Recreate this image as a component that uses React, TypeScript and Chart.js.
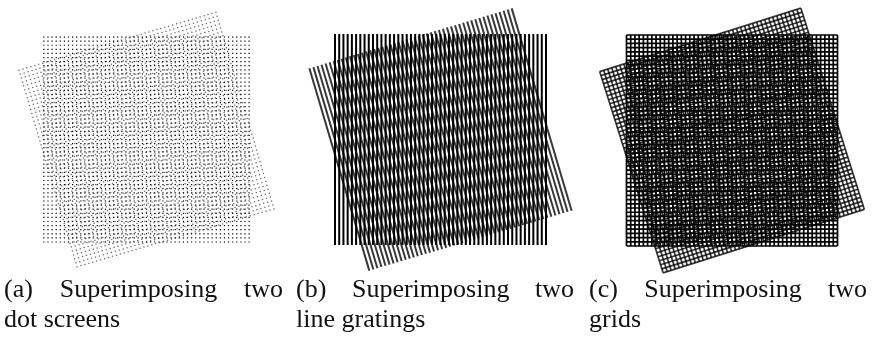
import React, { useEffect, useRef } from 'react';
import { Chart, registerables } from 'chart.js';

Chart.register(...registerables);

// ---- data ----
const gridIndex = [
  -25, -24, -23, -22, -21, -20, -19, -18, -17, -16, -15, -14, -13, -12, -11, -10, -9, -8, -7, -6, -5, -4, -3, -2, -1,
  0, 1, 2, 3, 4, 5, 6, 7, 8, 9, 10, 11, 12, 13, 14, 15, 16, 17, 18, 19, 20, 21, 22, 23, 24, 25,
];
const panelKinds = ['dots', 'lines', 'grids'];
const baseAngles = [0, 0, 0];
const overlayAngles = [-16.4, -16.5, -17.5];
const captionFirst = ['(a) Superimposing two', '(b) Superimposing two', '(c) Superimposing two'];
const captionSecond = ['dot screens', 'line gratings', 'grids'];

// ---- layout ----
const PANELS = [
  { left: 0, width: 292, cx: 146.5, cy: 139.5, size: 211 },
  { left: 293, width: 292, cx: 440.5, cy: 139.5, size: 211 },
  { left: 586, width: 288, cx: 732, cy: 140.5, size: 211 },
];
const CAPTIONS = [
  { left: 4, width: 279 },
  { left: 296, width: 278 },
  { left: 589, width: 278 },
];
const CANVAS_H = 280;

type Pt = { x: number; y: number };

function place(u: number, v: number, angleDeg: number, p: typeof PANELS[number]): Pt {
  const pitch = p.size / (gridIndex.length - 1);
  const a = (angleDeg * Math.PI) / 180;
  const c = Math.cos(a);
  const s = Math.sin(a);
  const px = u * pitch;
  const py = v * pitch;
  return { x: p.cx + px * c - py * s, y: p.cy + px * s + py * c };
}

function buildDatasets(index: number) {
  const p = PANELS[index];
  const kind = panelKinds[index];
  const first = gridIndex[0];
  const last = gridIndex[gridIndex.length - 1];
  const layers = [
    { angle: overlayAngles[index], color: 'rgba(0,0,0,0.78)' },
    { angle: baseAngles[index], color: '#000000' },
  ];
  const datasets: any[] = [];
  layers.forEach((layer, li) => {
    if (kind === 'dots') {
      const pts: Pt[] = [];
      gridIndex.forEach((i) => gridIndex.forEach((j) => pts.push(place(i, j, layer.angle, p))));
      datasets.push({
        data: pts,
        showLine: false,
        pointStyle: li === 1 ? 'rect' : 'circle',
        pointRadius: li === 1 ? 0.85 : 0.75,
        pointBorderWidth: 0,
        pointBackgroundColor: li === 1 ? '#000000' : 'rgba(0,0,0,0.6)',
        pointBorderColor: 'rgba(0,0,0,0)',
      });
    } else {
      const width = kind === 'lines' ? 2 : 1.7;
      gridIndex.forEach((i) => {
        datasets.push({
          data: [place(i, first, layer.angle, p), place(i, last, layer.angle, p)],
          showLine: true,
          pointRadius: 0,
          borderColor: layer.color,
          borderWidth: width,
        });
        if (kind === 'grids') {
          datasets.push({
            data: [place(first, i, layer.angle, p), place(last, i, layer.angle, p)],
            showLine: true,
            pointRadius: 0,
            borderColor: layer.color,
            borderWidth: width,
          });
        }
      });
    }
  });
  return datasets;
}

function Panel({ index }: { index: number }) {
  const ref = useRef<HTMLCanvasElement>(null);
  const p = PANELS[index];
  useEffect(() => {
    if (!ref.current) return;
    const chart = new Chart(ref.current, {
      type: 'scatter',
      data: { datasets: buildDatasets(index) },
      options: {
        responsive: false,
        animation: false,
        events: [],
        layout: { padding: 0 },
        plugins: { legend: { display: false }, tooltip: { enabled: false }, title: { display: false } },
        scales: {
          x: { type: 'linear', display: false, min: p.left, max: p.left + p.width },
          y: { type: 'linear', display: false, min: 0, max: CANVAS_H, reverse: true },
        },
      },
    } as any);
    return () => chart.destroy();
  }, [index]);
  return (
    <canvas
      ref={ref}
      width={p.width}
      height={CANVAS_H}
      style={{ position: 'absolute', left: p.left, top: 0, display: 'block' }}
    />
  );
}

export default function App() {
  const font = { fontFamily: '"Liberation Serif", serif', fontSize: 26, lineHeight: '30px', color: '#111' };
  return (
    <div style={{ position: 'absolute', left: 0, top: 0, width: 874, height: 337, background: '#fff', overflow: 'hidden' }}>
      {PANELS.map((_, i) => (
        <Panel key={i} index={i} />
      ))}
      {CAPTIONS.map((c, i) => (
        <div key={'c' + i} style={{ position: 'absolute', left: c.left, top: 274, width: c.width, ...font }}>
          <div style={{ textAlign: 'justify', textAlignLast: 'justify' } as any}>{captionFirst[i]}</div>
          <div style={{ textAlign: 'left' }}>{captionSecond[i]}</div>
        </div>
      ))}
    </div>
  );
}
